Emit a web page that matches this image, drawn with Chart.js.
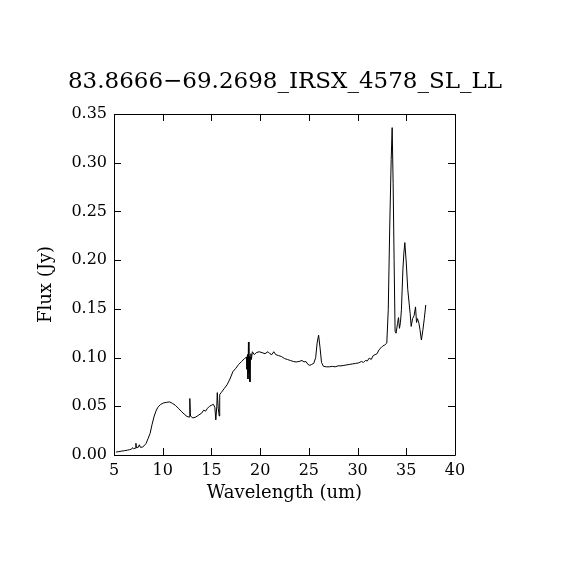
<!DOCTYPE html>
<html lang="en">
<head>
    <meta charset="UTF-8">
    <title>83.8666-69.2698_IRSX_4578_SL_LL</title>
    <style>
        body {
            margin: 0;
            padding: 0;
            background: white;
        }
        #chart {
            display: block;
        }
    </style>
</head>
<body>

    <canvas id="chart" width="570" height="570"></canvas>

    <script src="https://cdn.jsdelivr.net/npm/chart.js"></script>
    <script>
        let chartTitle = "83.8666\u221269.2698_IRSX_4578_SL_LL";
        let xTicks = [5, 10, 15, 20, 25, 30, 35, 40];
        let yTicks = [0.00, 0.05, 0.10, 0.15, 0.20, 0.25, 0.30, 0.35];

        // wavelength (um) and flux (Jy)
        let wavelength = [
            5.2, 5.5, 5.8, 6.1, 6.4, 6.6, 6.8, 6.9, 7.0, 7.2, 7.25, 7.3, 7.5, 7.6, 7.7, 7.9,
            8.1, 8.3, 8.5, 8.7, 8.9, 9.1, 9.3, 9.5, 9.8, 10.1, 10.4, 10.7, 11.0, 11.3, 11.6, 11.9,
            12.2, 12.5, 12.7, 12.78, 12.85, 13.1, 13.4, 13.7, 14.0, 14.2, 14.4, 14.6, 14.8,
            15.0, 15.2, 15.35, 15.45, 15.55, 15.6, 15.7, 15.8, 15.85, 16.0, 16.3, 16.6, 16.9, 17.2, 17.5,
            17.8, 18.1, 18.4, 18.6, 18.65, 18.7, 18.75, 18.8, 18.85, 18.9, 18.95, 19.0, 19.05, 19.1, 19.2,
            19.4, 19.6, 19.9, 20.2, 20.5, 20.8, 21.0, 21.2, 21.4, 21.6, 21.9, 22.2, 22.5, 22.8, 23.1,
            23.4, 23.7, 24.0, 24.3, 24.5, 24.7, 24.9, 25.1, 25.3, 25.5, 25.7, 25.85, 26.0, 26.15, 26.3,
            26.5, 26.8, 27.1, 27.4, 27.7, 28.0, 28.3, 28.6, 28.9, 29.2, 29.5, 29.8, 30.1, 30.4, 30.6,
            30.8, 31.0, 31.2, 31.4, 31.6, 31.8, 32.0, 32.2, 32.4, 32.6, 32.8, 33.0, 33.15, 33.3, 33.45,
            33.55, 33.65, 33.75, 33.85, 33.95, 34.1, 34.2, 34.3, 34.4, 34.5, 34.65, 34.75, 34.85, 35.0,
            35.15, 35.3, 35.4, 35.5, 35.65, 35.8, 35.95, 36.05, 36.15, 36.3, 36.4, 36.55, 36.7, 36.85, 37.0
        ];
        let flux = [
            0.003, 0.0035, 0.004, 0.0045, 0.005, 0.0055, 0.006, 0.0075, 0.0065, 0.007, 0.012, 0.0075, 0.008, 0.0105, 0.008, 0.008,
            0.0095, 0.012, 0.017, 0.022, 0.031, 0.039, 0.045, 0.049, 0.052, 0.0535, 0.054, 0.0545, 0.053, 0.051, 0.048, 0.045,
            0.042, 0.0395, 0.039, 0.058, 0.040, 0.038, 0.039, 0.041, 0.043, 0.046, 0.045, 0.048, 0.050,
            0.051, 0.052, 0.049, 0.036, 0.050, 0.064, 0.048, 0.040, 0.062, 0.064, 0.068, 0.072, 0.078, 0.0855, 0.089,
            0.093, 0.096, 0.099, 0.1005, 0.088, 0.103, 0.078, 0.116, 0.084, 0.101, 0.075, 0.100, 0.104, 0.098, 0.106,
            0.103, 0.105, 0.106, 0.105, 0.104, 0.106, 0.104, 0.103, 0.106, 0.103, 0.102, 0.101, 0.099, 0.098, 0.097,
            0.096, 0.0955, 0.096, 0.097, 0.0955, 0.096, 0.093, 0.092, 0.093, 0.094, 0.100, 0.115, 0.123, 0.110, 0.095,
            0.091, 0.0905, 0.0905, 0.091, 0.0905, 0.0915, 0.0915, 0.092, 0.0925, 0.093, 0.0935, 0.094, 0.0945, 0.096, 0.095,
            0.097, 0.0965, 0.0995, 0.098, 0.102, 0.103, 0.104, 0.108, 0.110, 0.112, 0.113, 0.115, 0.149, 0.234, 0.303,
            0.336, 0.279, 0.200, 0.127, 0.125, 0.135, 0.141, 0.130, 0.136, 0.149, 0.190, 0.207, 0.218, 0.197,
            0.170, 0.155, 0.145, 0.132, 0.140, 0.143, 0.152, 0.136, 0.140, 0.135, 0.129, 0.118, 0.128, 0.140, 0.154
        ];

        let points = wavelength.map((w, i) => ({ x: w, y: flux[i] }));

        // box round the plot and short inward ticks on all four sides
        const frame = {
            id: "frame",
            afterDraw(chart) {
                let ctx = chart.ctx;
                let a = chart.chartArea;
                let xs = chart.scales.x;
                let ys = chart.scales.y;
                let len = 7;
                ctx.save();
                ctx.strokeStyle = "black";
                ctx.lineWidth = 1;
                ctx.beginPath();
                ctx.rect(Math.round(a.left) + 0.5, Math.round(a.top) + 0.5,
                         Math.round(a.right - a.left), Math.round(a.bottom - a.top));
                xTicks.forEach(v => {
                    let px = Math.round(xs.getPixelForValue(v)) + 0.5;
                    ctx.moveTo(px, a.bottom);
                    ctx.lineTo(px, a.bottom - len);
                    ctx.moveTo(px, a.top);
                    ctx.lineTo(px, a.top + len);
                });
                yTicks.forEach(v => {
                    let py = Math.round(ys.getPixelForValue(v)) + 0.5;
                    ctx.moveTo(a.left, py);
                    ctx.lineTo(a.left + len, py);
                    ctx.moveTo(a.right, py);
                    ctx.lineTo(a.right - len, py);
                });
                ctx.stroke();
                ctx.restore();
            }
        };

        let ctx = document.getElementById("chart").getContext("2d");
        new Chart(ctx, {
            type: "line",
            data: {
                datasets: [{
                    data: points,
                    borderColor: "black",
                    borderWidth: 1,
                    pointRadius: 0,
                    tension: 0,
                    fill: false
                }]
            },
            options: {
                responsive: false,
                animation: false,
                layout: { padding: 0 },
                plugins: {
                    legend: { display: false },
                    tooltip: { enabled: false },
                    title: {
                        display: true,
                        text: chartTitle,
                        color: "black",
                        font: { family: "DejaVu Serif", size: 23, weight: "normal" },
                        padding: { top: 68, bottom: 18.4 }
                    }
                },
                scales: {
                    x: {
                        type: "linear",
                        min: 5,
                        max: 40,
                        afterFit: s => { s.height = 115; },
                        afterBuildTicks: s => { s.ticks = xTicks.map(v => ({ value: v })); },
                        grid: { display: false, drawTicks: false },
                        border: { display: false },
                        ticks: {
                            color: "black",
                            padding: 6,
                            maxRotation: 0,
                            font: { family: "DejaVu Serif", size: 16 }
                        },
                        title: {
                            display: true,
                            text: "Wavelength (um)",
                            color: "black",
                            font: { family: "DejaVu Serif", size: 18 },
                            padding: { top: 0, bottom: 66 }
                        }
                    },
                    y: {
                        min: 0,
                        max: 0.35,
                        afterFit: s => { s.width = 114; },
                        afterBuildTicks: s => { s.ticks = yTicks.map(v => ({ value: v })); },
                        grid: { display: false, drawTicks: false },
                        border: { display: false },
                        ticks: {
                            color: "black",
                            padding: 7,
                            font: { family: "DejaVu Serif", size: 16 },
                            callback: v => Number(v).toFixed(2)
                        },
                        title: {
                            display: true,
                            text: "Flux (Jy)",
                            color: "black",
                            font: { family: "DejaVu Serif", size: 18 },
                            padding: { top: 36, bottom: 0 }
                        }
                    },
                    // empty right-hand axis, only to reserve the margin on that side
                    yRight: {
                        position: "right",
                        min: 0,
                        max: 0.35,
                        afterFit: s => { s.width = 115; },
                        grid: { display: false, drawTicks: false },
                        border: { display: false },
                        ticks: { display: false }
                    }
                }
            },
            plugins: [frame]
        });
    </script>

</body>
</html>
